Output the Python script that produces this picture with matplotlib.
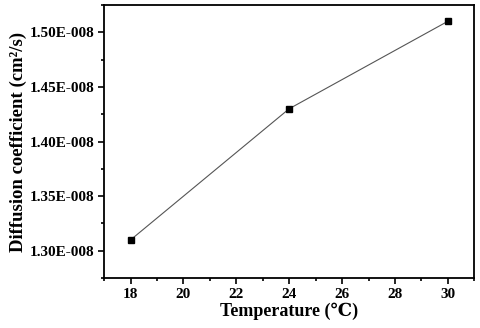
import matplotlib
matplotlib.use("Agg")
import matplotlib.pyplot as plt
from matplotlib.ticker import MultipleLocator

temperature = [18, 24, 30]
diffusion = [1.31e-8, 1.43e-8, 1.51e-8]
y_ticks = [1.30e-8, 1.35e-8, 1.40e-8, 1.45e-8, 1.50e-8]
y_tick_labels = ["1.30E-008", "1.35E-008", "1.40E-008", "1.45E-008", "1.50E-008"]
x_ticks = [18, 20, 22, 24, 26, 28, 30]

plt.rcParams["font.family"] = ["Liberation Serif", "DejaVu Serif"]
plt.rcParams["font.weight"] = "bold"

fig = plt.figure(figsize=(4.8, 3.28), dpi=100)
ax = fig.add_axes([0.217, 0.152, 0.771, 0.833])

ax.plot(temperature, diffusion, color="#555555", lw=0.8, marker="s", ms=5,
        mfc="black", mec="black")

ax.set_xlim(17, 31)
ax.set_ylim(1.275e-8, 1.525e-8)
ax.set_xticks(x_ticks)
ax.set_yticks(y_ticks, y_tick_labels)
ax.xaxis.set_minor_locator(MultipleLocator(1))
ax.yaxis.set_minor_locator(MultipleLocator(0.025e-8))
ax.yaxis.get_offset_text().set_visible(False)

ax.tick_params(which="both", direction="out", width=1.2, labelsize=11)
ax.tick_params(which="major", length=4, pad=3)
ax.tick_params(which="minor", length=2.5)
for s in ax.spines.values():
    s.set_linewidth(1.3)

ax.set_xlabel("Temperature (\u2103)", fontsize=13, fontweight="bold", labelpad=1)
ax.set_ylabel("Diffusion coefficient (cm\u00b2/s)", fontsize=13.5, fontweight="bold",
              labelpad=2)

fig.savefig("out.png", dpi=100)
